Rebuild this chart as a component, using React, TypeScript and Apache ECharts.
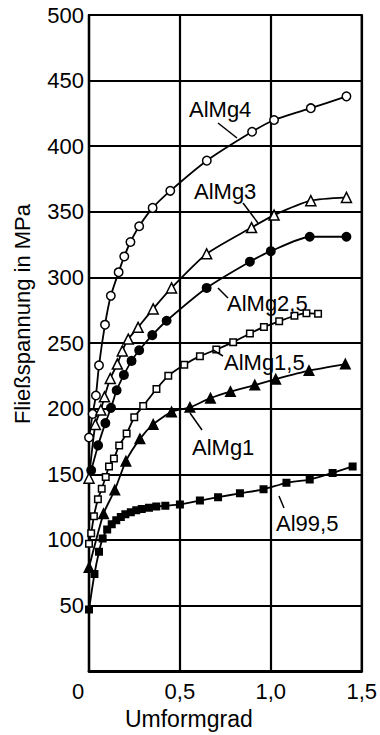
import React, { useEffect, useRef } from 'react';
import * as echarts from 'echarts';

const seriesNames = ['AlMg4', 'AlMg3', 'AlMg2,5', 'AlMg1,5', 'AlMg1', 'Al99,5'];

const alMg4 = [[0,178],[0.02,196],[0.038,210],[0.055,233],[0.088,264],[0.12,286],[0.163,304],[0.194,316],[0.228,327],[0.276,339],[0.35,353],[0.447,366],[0.648,389],[0.897,411],[1.018,420],[1.22,429],[1.416,438]];
const alMg3 = [[0,147],[0.035,188],[0.065,199],[0.085,209],[0.117,223],[0.156,234],[0.183,244],[0.216,253],[0.27,262],[0.353,276],[0.454,292],[0.647,318],[0.894,338],[1.018,347.5],[1.22,358.5],[1.416,361]];
const alMg25 = [[0.012,153],[0.05,172],[0.09,189],[0.121,200.6],[0.152,214],[0.192,225.7],[0.234,236.4],[0.276,244.5],[0.348,256],[0.427,267],[0.647,292],[0.885,312],[1.0,320],[1.214,331],[1.416,331]];
const alMg15 = [[0,97],[0.012,105],[0.027,118],[0.049,131],[0.07,139],[0.092,148],[0.11,156],[0.137,162],[0.166,172],[0.207,181],[0.249,193.5],[0.298,202],[0.371,215],[0.436,225],[0.524,233.5],[0.61,240],[0.7,245],[0.793,250.7],[0.885,257.3],[0.962,262.3],[1.046,266.6],[1.13,270.8],[1.196,272.8],[1.26,272.3]];
const alMg1 = [[0,79],[0.08,120],[0.142,138],[0.203,160],[0.28,177],[0.353,188],[0.454,197.5],[0.555,201],[0.668,208],[0.778,213],[0.912,218],[1.027,222.5],[1.21,229],[1.41,234]];
const al995 = [[0,47],[0.03,74],[0.055,91],[0.075,101],[0.1,108],[0.125,112],[0.15,115],[0.175,117.5],[0.2,119.5],[0.23,121],[0.26,122.5],[0.29,123.5],[0.33,124.5],[0.37,125.5],[0.42,126],[0.5,127],[0.61,130],[0.71,132.5],[0.83,135.5],[0.96,138.5],[1.086,143.5],[1.214,146],[1.34,151],[1.45,156]];

const xTitle = 'Umformgrad';
const yTitle = 'Fließspannung in MPa';

export default function App() {
  const ref = useRef<HTMLDivElement>(null);
  useEffect(() => {
    const chart = echarts.init(ref.current as HTMLDivElement, null, { renderer: 'svg' });
    const font = "'Liberation Sans', Arial, Helvetica, sans-serif";
    const mk = (name: string, data: number[][], symbol: string, size: number, filled: boolean) => ({
      type: 'line',
      name,
      data,
      symbol,
      symbolSize: size,
      showSymbol: true,
      smooth: 0.2,
      lineStyle: { color: '#000', width: 1.8 },
      itemStyle: { color: filled ? '#000' : '#fff', borderColor: '#000', borderWidth: 1.5, opacity: 1 },
      emphasis: { disabled: true },
      z: 3,
    });
    const lbl = (text: string, x: number, y: number) => ({
      type: 'text',
      x,
      y,
      z: 10,
      style: { text, fontSize: 22, fontFamily: font, fill: '#000', verticalAlign: 'middle', align: 'left' },
    });
    const ln = (x1: number, y1: number, x2: number, y2: number) => ({
      type: 'line',
      z: 10,
      shape: { x1, y1, x2, y2 },
      style: { stroke: '#000', lineWidth: 1.5 },
    });
    chart.setOption({
      animation: false,
      backgroundColor: '#fff',
      grid: { left: 89, top: 15, right: 18, bottom: 56, show: true, borderColor: '#000', borderWidth: 2.2, backgroundColor: 'transparent' },
      xAxis: {
        type: 'value',
        min: 0,
        max: 1.5,
        interval: 0.5,
        name: xTitle,
        nameLocation: 'middle',
        nameGap: 32,
        nameTextStyle: { fontSize: 23, fontFamily: font, color: '#000', padding: [0, 73, 0, 0] },
        axisLine: { show: true, lineStyle: { color: '#000', width: 2.8 } },
        axisTick: { show: false },
        axisLabel: {
          fontSize: 22,
          fontFamily: font,
          color: '#000',
          margin: 9,
          formatter: (v: number) => (v === 0 ? '{z|0}' : v.toFixed(1).replace('.', ',')),
          rich: { z: { fontSize: 22, fontFamily: font, color: '#000', padding: [0, 22, 0, 0] } },
        },
        splitLine: { show: true, lineStyle: { color: '#000', width: 2.2 } },
      },
      yAxis: {
        type: 'value',
        min: 0,
        max: 500,
        interval: 50,
        name: yTitle,
        nameLocation: 'middle',
        nameGap: 56,
        nameRotate: 90,
        nameTextStyle: { fontSize: 22, fontFamily: font, color: '#000', padding: [0, 0, 0, 58] },
        axisLine: { show: true, lineStyle: { color: '#000', width: 2.2 } },
        axisTick: { show: false },
        axisLabel: {
          fontSize: 22,
          fontFamily: font,
          color: '#000',
          margin: 5,
          formatter: (v: number) => (v === 0 ? '' : String(v)),
        },
        splitLine: { show: true, lineStyle: { color: '#000', width: 1.8 } },
      },
      series: [
        mk(seriesNames[0], alMg4, 'circle', 8.5, false),
        mk(seriesNames[1], alMg3, 'triangle', 10, false),
        mk(seriesNames[2], alMg25, 'circle', 8.5, true),
        mk(seriesNames[3], alMg15, 'rect', 6.5, false),
        mk(seriesNames[4], alMg1, 'triangle', 9.5, true),
        mk(seriesNames[5], al995, 'rect', 6.5, true),
      ],
      graphic: [
        lbl(seriesNames[0], 189, 109),
        ln(218, 123, 237, 138),
        lbl(seriesNames[1], 194, 191),
        ln(243, 203, 258, 223),
        lbl(seriesNames[2], 227, 303),
        ln(218, 288, 228, 298),
        lbl(seriesNames[3], 224, 362),
        ln(213, 350, 223, 356),
        lbl(seriesNames[4], 192, 447),
        ln(190, 413, 202, 430),
        lbl(seriesNames[5], 276, 523),
        ln(279, 496, 284, 508),
      ],
    });
    return () => chart.dispose();
  }, []);
  return <div ref={ref} style={{ position: 'fixed', left: 0, top: 0, width: 380, height: 735, background: '#fff' }} />;
}
